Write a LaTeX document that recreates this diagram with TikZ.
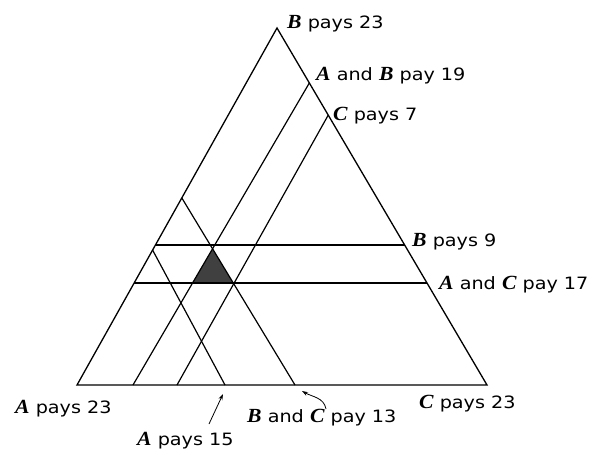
\documentclass[tikz,border=0pt]{standalone}
\usepackage{fontspec}
\setmainfont[FakeStretch=1.13]{DejaVu Sans}
\newfontfamily\letterfont[FakeStretch=1.08, Scale=1.18]{Liberation Serif}
\usetikzlibrary{arrows.meta, calc}
\newcommand{\who}[1]{{\letterfont\bfseries\itshape #1}}

\begin{document}
\begin{tikzpicture}[
  x=1pt, y=-1pt,
  side/.style={line width=1.3pt, line join=miter},
  cut/.style={line width=1.2pt},
  core/.style={fill=black!75, draw=none},
  lbl/.style={font=\fontsize{17}{19}\selectfont, inner sep=0pt, anchor=base west},
  pointer/.style={-{Stealth[length=6pt, width=4pt]}, line width=0.8pt}
]
\useasboundingbox (0,0) rectangle (595,448);

% ── Corners ──
\coordinate (pa) at (77,385);
\coordinate (pc) at (487,385);
\coordinate (pb) at (277,28);

% ── Cuts parallel to AB (base -> right side) ──
\coordinate (ab19) at (133,385);
\coordinate (ab19t) at ($(pb)!0.154!(pc)$);
\coordinate (c7) at (177,385);
\coordinate (c7t) at ($(pb)!0.244!(pc)$);

% ── Cuts parallel to BC (base -> left side) ──
\coordinate (a15) at (225,385);
\coordinate (a15t) at ($(pa)!0.378!(pb)$);
\coordinate (bc13) at (295,385);
\coordinate (bc13t) at ($(pa)!0.524!(pb)$);

% ── Horizontal cuts ──
\coordinate (b9l) at ($(pa)!0.392!(pb)$);
\coordinate (b9r) at ($(pc)!0.392!(pb)$);
\coordinate (ac17l) at ($(pa)!0.286!(pb)$);
\coordinate (ac17r) at ($(pc)!0.286!(pb)$);

% ── Shaded core ──
\fill[core] (intersection of ab19--ab19t and bc13--bc13t)
  -- (intersection of ab19--ab19t and ac17l--ac17r)
  -- (intersection of bc13--bc13t and ac17l--ac17r) -- cycle;

% ── Lines ──
\draw[side] (pa) -- (pb) -- (pc) -- cycle;
\draw[cut] (ab19) -- (ab19t);
\draw[cut] (c7) -- (c7t);
\draw[cut] (a15) -- (a15t);
\draw[cut] (bc13) -- (bc13t);
\draw[cut] (b9l) -- (b9r);
\draw[cut] (ac17l) -- (ac17r);

% ── Labels ──
\node[lbl] (lblB23) at (287,28) {\who{B} pays 23};
\node[lbl] (lblAB19) at (316,80) {\who{A} and \who{B} pay 19};
\node[lbl] (lblC7) at (333,120) {\who{C} pays 7};
\node[lbl] (lblB9) at (412,246) {\who{B} pays 9};
\node[lbl] (lblAC17) at (439,289) {\who{A} and \who{C} pay 17};
\node[lbl] (lblA23) at (15,413) {\who{A} pays 23};
\node[lbl] (lblC23) at (419,408) {\who{C} pays 23};
\node[lbl] (lblBC13) at (247,422) {\who{B} and \who{C} pay 13};
\node[lbl] (lblA15) at (137,445) {\who{A} pays 15};

% ── Pointers ──
\coordinate (a15tail) at (209,424);
\coordinate (a15tip) at (223,394);
\draw[pointer] (a15tail) -- (a15tip);
\coordinate (bc13tail) at (326,409);
\coordinate (bc13tip) at (302,391);
\draw[pointer] (bc13tail) to[out=100, in=-30] (bc13tip);

\end{tikzpicture}
\end{document}
